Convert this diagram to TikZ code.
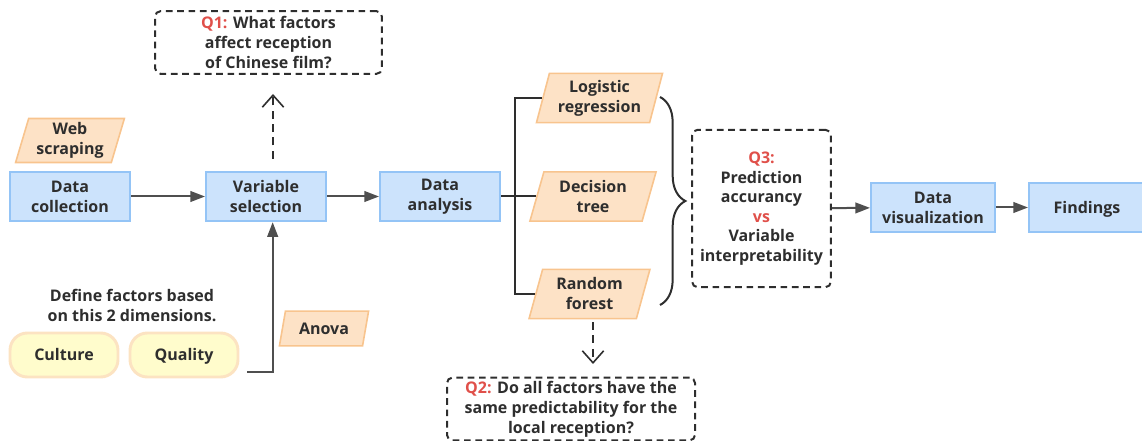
\documentclass[tikz,border=0pt]{standalone}
\usepackage{fontspec}
\setmainfont{Open Sans}
\usetikzlibrary{positioning,shapes.geometric,arrows.meta,decorations.pathreplacing}

\definecolor{boxblue}{HTML}{CCE3FC}
\definecolor{lineblue}{HTML}{94C4F6}
\definecolor{fillorange}{HTML}{FDE2C6}
\definecolor{lineorange}{HTML}{F8C48E}
\definecolor{fillyellow}{HTML}{FFFCCC}
\definecolor{lineyellow}{HTML}{FCE3C2}
\definecolor{inkgray}{HTML}{2E2E2E}
\definecolor{arrowgray}{HTML}{4F4F4F}
\definecolor{qred}{HTML}{E0504A}

\tikzset{
  every node/.style={font=\bfseries\fontsize{12}{15}\selectfont, text=inkgray, align=center},
  stagebox/.style={rectangle, fill=boxblue, draw=lineblue, line width=1.5pt,
    minimum width=90pt, minimum height=37pt, inner sep=1pt},
  methodbox/.style={trapezium, trapezium left angle=74, trapezium right angle=106,
    trapezium stretches=true, fill=fillorange, draw=lineorange, line width=1.2pt,
    minimum width=95pt, minimum height=37pt, inner sep=1pt},
  dimbox/.style={rectangle, rounded corners=13pt, fill=fillyellow, draw=lineyellow,
    line width=2.2pt, minimum width=81pt, minimum height=33pt,
    text height=9.5pt, text depth=1pt},
  qbox/.style={rectangle, rounded corners=4pt, draw=inkgray, line width=1.5pt,
    dash pattern=on 5pt off 3.5pt, inner sep=1pt},
  flow/.style={draw=arrowgray, line width=1.5pt, -{Triangle[length=11pt,width=8pt]}},
  link/.style={draw=inkgray, line width=1.5pt},
  qflow/.style={draw=inkgray, line width=1.5pt, dash pattern=on 6pt off 4pt,
    -{Straight Barb[length=9pt,width=16pt,line width=1.2pt]}},
}

\begin{document}
\begin{tikzpicture}[x=0.75pt,y=-0.75pt]
  \useasboundingbox (0,0) rectangle (1142,441);

  % main stages
  \node[stagebox] (coll) at (70,196.5)  {Data\\collection};
  \node[stagebox] (sel)  at (266,196.5) {Variable\\selection};
  \node[stagebox] (ana)  at (440,196.5) {Data\\analysis};
  \node[stagebox, minimum width=93pt] (vis)  at (933,207.5) {Data\\visualization};
  \node[stagebox, minimum width=87pt, text height=9.5pt, text depth=1pt] (find) at (1087,207.5) {Findings};

  % methods
  \node[methodbox, minimum width=82pt, minimum height=33pt] (web) at (70,140.5) {Web\\scraping};
  \node[methodbox, minimum width=67pt, minimum height=26pt] (anova) at (324,328.5) {Anova};
  \node[methodbox] (logit)   at (599.5,98)  {Logistic\\regression};
  \node[methodbox] (dtree)   at (593,196.5) {Decision\\tree};
  \node[methodbox, minimum width=91pt] (rforest) at (589.5,294) {Random\\forest};

  % dimensions
  \node (define) at (132,305) {Define factors based\\on this 2 dimensions.};
  \node[dimbox] (culture) at (64,355)  {Culture};
  \node[dimbox] (quality) at (184,355) {Quality};

  % questions
  \node[qbox, minimum width=170pt, minimum height=47pt] (q1) at (268.5,42.5)
    {\textcolor{qred}{Q1:} What factors\\affect reception\\of Chinese film?};
  \node[qbox, minimum width=186pt, minimum height=47pt] (q2) at (571,409)
    {\textcolor{qred}{Q2:} Do all factors have the\\same predictability for the\\local reception?};
  \node[qbox, minimum width=104pt, minimum height=118pt, font=\bfseries\fontsize{12}{14.6}\selectfont] (q3) at (761.5,208.5)
    {\textcolor{qred}{Q3:}\\Prediction\\accurancy\\\textcolor{qred}{vs}\\Variable\\interpretability};

  % connectors
  \coordinate (split) at (515,196.5);
  \coordinate (upend) at (273,94);
  \coordinate (downend) at (593,364);
  \coordinate (fromdims) at (247,372);

  \draw[flow] (coll) -- (sel);
  \draw[flow] (sel) -- (ana);
  \draw[qflow] ([yshift=9pt]sel.north -| upend) -- (upend);
  \draw[flow] (fromdims) -| ([xshift=5pt]sel.south);

  \draw[link] (ana.east) -- (split);
  \foreach \m in {logit,dtree,rforest}
    \draw[link] (split) |- (\m.west);

  \draw[link, decorate, decoration={brace, amplitude=19pt, aspect=0.5}] (660,97) -- (660,305);
  \draw[qflow] ([yshift=-2pt]rforest.south -| downend) -- (downend);

  \draw[flow] (q3) -- (vis);
  \draw[flow] (vis) -- (find);
\end{tikzpicture}
\end{document}
